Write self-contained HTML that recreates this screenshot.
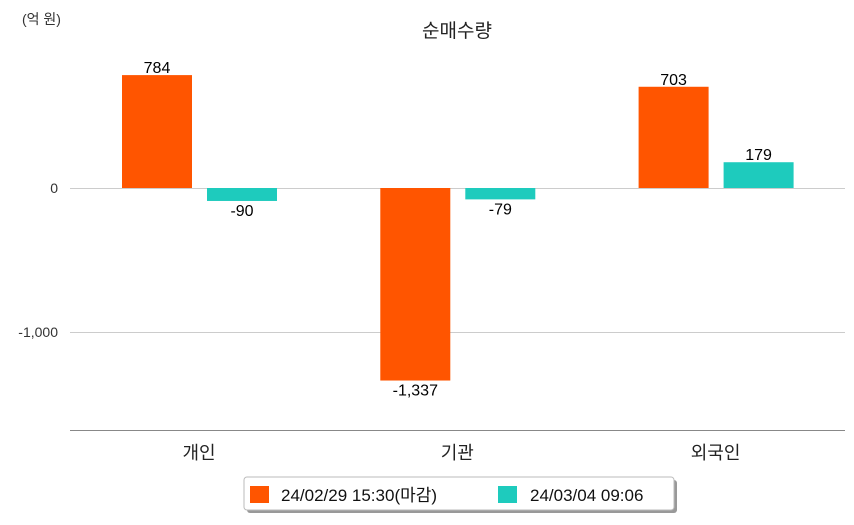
<!DOCTYPE html>
<html><head><meta charset="utf-8"><style>
body{margin:0;background:#fff;font-family:"Liberation Sans","Noto Sans CJK KR",sans-serif}
</style></head><body>
<svg id="c" width="854" height="520" viewBox="0 0 854 520" xmlns="http://www.w3.org/2000/svg" style="font-family:'Liberation Sans','Noto Sans CJK KR',sans-serif">
<text x="22" y="24" font-size="14" fill="#333">(억 원)</text>
<text x="457" y="37" font-size="19" fill="#222" text-anchor="middle">순매수량</text>
<g id="grid"></g><g id="bars"></g>
<line x1="70" y1="430.5" x2="845" y2="430.5" stroke="#888"/>
<g>
<rect x="247" y="480" width="430" height="33" rx="3" fill="#999"/>
<rect x="244" y="477" width="430" height="33" rx="3" fill="#fff" stroke="#bbb"/>
<rect x="250" y="486" width="19" height="17" fill="#ff5500"/>
<text x="281" y="501" font-size="17" fill="#111">24/02/29 15:30(마감)</text>
<rect x="498" y="486" width="19" height="17" fill="#1ecbbd"/>
<text x="530" y="501" font-size="17" fill="#111">24/03/04 09:06</text>
</g>
</svg>
<script>
const categories=["개인","기관","외국인"];
const series1=[784,-1337,703];
const series2=[-90,-79,179];
const yTicks=[0,-1000];
const yTickLabels=["0","-1,000"];
const NS="http://www.w3.org/2000/svg";
const y=v=>188-v*0.144;
const groupX=i=>70+258.3*i+129;
function mk(t,a,p){const e=document.createElementNS(NS,t);for(const k in a)e.setAttribute(k,a[k]);p.appendChild(e);return e;}
const g=document.getElementById('grid'),b=document.getElementById('bars');
yTicks.forEach((t,i)=>{
 const l=mk('line',{x1:70,x2:845,y1:y(t)+0.5,y2:y(t)+0.5,stroke:'#ccc'},g);
 
 
 const tx=mk('text',{x:58,y:y(t)+5,'font-size':14,fill:'#333','text-anchor':'end'},g);
 tx.textContent=yTickLabels[i];
 
 
});
const fmt=v=>v.toLocaleString('en-US');
categories.forEach((c,i)=>{
 const cx=groupX(i);
 [[series1,'#ff5500',-77],[series2,'#1ecbbd',8]].forEach(([s,col,off],j)=>{
  const v=s[i],y0=y(0),y1=y(v);
  const r=mk('rect',{x:cx+off,width:70,y:Math.min(y0,y1),height:Math.abs(y1-y0),fill:col},b);
  
  
  const t=mk('text',{x:cx+off+35,y:v>=0?y1-2:y1+15,'font-size':16,fill:'#000','text-anchor':'middle'},b);
  t.textContent=fmt(v);
  
  
 });
 const ct=mk('text',{x:cx,y:459,'font-size':18,fill:'#222','text-anchor':'middle'},b);
 ct.textContent=c;
 
 
});
</script>
</body></html>
